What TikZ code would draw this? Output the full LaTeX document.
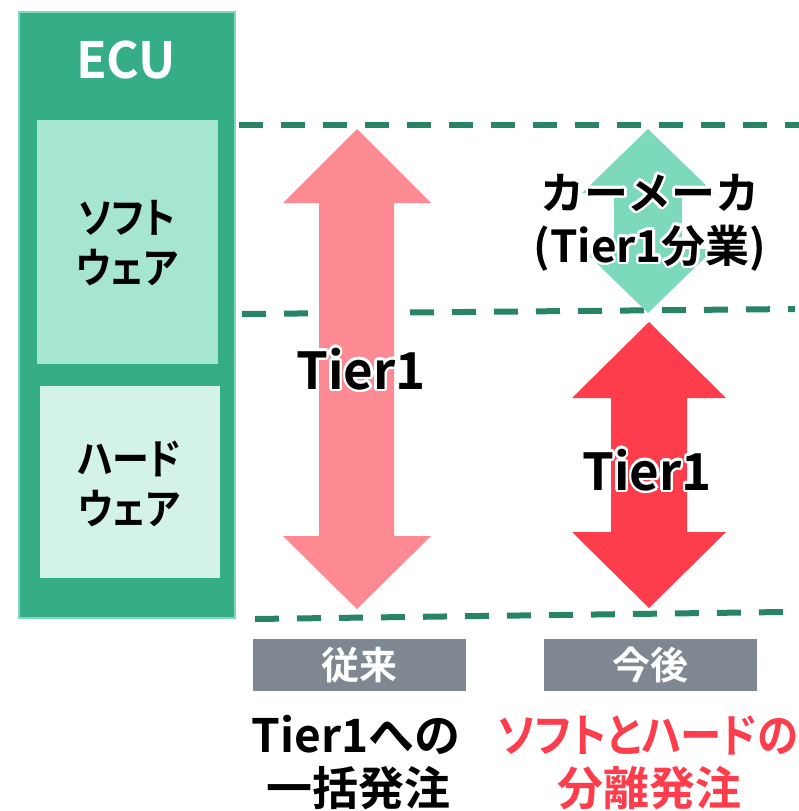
\documentclass[tikz,border=0pt]{standalone}
\usepackage{fontspec}
\usepackage{contour}
\setmainfont{Noto Sans CJK JP}[BoldFont={Noto Sans CJK JP Bold}]
\newfontfamily\jpp{Noto Sans CJK JP Bold}[RawFeature=+palt]
\contourlength{2.5pt}
\contournumber{20}
\definecolor{ecuG}{HTML}{35AE88}
\definecolor{ecuB}{HTML}{7FD9BB}
\definecolor{swG}{HTML}{A6E5D1}
\definecolor{hwG}{HTML}{D3F2E8}
\definecolor{dashG}{HTML}{288467}
\definecolor{pinkA}{HTML}{FD8A92}
\definecolor{redA}{HTML}{FE3D4C}
\definecolor{greenA}{HTML}{7CD9BC}
\definecolor{grayB}{HTML}{7F8791}
\tikzset{
  sep/.style={draw=dashG,line width=6pt,dash pattern=on 24pt off 18pt},
  lbl/.style={font=\fontsize{#1}{#1}\selectfont\bfseries,inner sep=0pt,align=center},
  side/.style={inner sep=0pt,align=center,font=\jpp\fontsize{42}{50}\selectfont},
  tag/.style={fill=grayB,minimum width=213pt,minimum height=52pt,inner sep=0pt,text=white,font=\fontsize{38}{38}\selectfont\bfseries},
}
\begin{document}
\begin{tikzpicture}[x=1pt,y=-1pt]
\useasboundingbox (0,0) rectangle (799,811);
% ECU
\path[fill=ecuG,draw=ecuB,line width=1.5pt] (19,12) rectangle (235,618);
\node[lbl=50,text=white] (ecu) at (126,60) {ECU};
\path[fill=swG] (37,120) rectangle (218,364);
\node[side] (sw) at (127,243) {\scalebox{0.88}[1]{ソフト}\\\scalebox{0.88}[1]{ウェア}};
\path[fill=hwG] (40,386) rectangle (220,578);
\node[side] (hw) at (129,484) {\scalebox{0.88}[1]{ハード}\\\scalebox{0.88}[1]{ウェア}};
% dashed separators
\coordinate (l1a) at (239,125); \coordinate (l1b) at (799,125);
\coordinate (l2a) at (242,314); \coordinate (l2b) at (795,309);
\coordinate (l3a) at (255,619); \coordinate (l3b) at (783,612);
\draw[sep] (l1a) -- (l1b);
\draw[sep] (l2a) -- (l2b);
\draw[sep] (l3a) -- (l3b);
% pink arrow
\fill[pinkA] (357,129) -- (431,203) -- (394,203) -- (394,536) -- (431,536) -- (357,609)
  -- (283,536) -- (319,536) -- (319,203) -- (283,203) -- cycle;
% green arrow
\fill[greenA] (648,129) -- (714,193) -- (682,193) -- (682,249) -- (714,249) -- (648,313)
  -- (582,249) -- (614,249) -- (614,193) -- (582,193) -- cycle;
% red arrow
\fill[redA] (649,322) -- (726,398) -- (687,398) -- (687,532) -- (726,532) -- (649,608)
  -- (572,532) -- (611,532) -- (611,398) -- (572,398) -- cycle;
% arrow labels with white halo
\node[lbl=51] (t1) at (361,370) {\contour{white}{Tier1}};
\node[lbl=51] (t2) at (647,471) {\contour{white}{Tier1}};
\node[lbl=44] (cm) at (650,194) {\contour{white}{カーメーカ}};
\node[lbl=44] (cm2) at (650,249) {\contour{white}{(Tier1分業)}};
% tags
\node[tag] (old) at (359.5,665) {従来};
\node[tag] (new) at (650.5,665) {今後};
% bottom texts
\node[lbl=46] (b1) at (356,735) {Tier1への};
\node[lbl=46] (b2) at (358,788) {一括発注};
\node[lbl=46,text=redA,font=\jpp\fontsize{46}{46}\selectfont] (b3) at (648,735) {\scalebox{0.9}[1]{ソフトとハードの}};
\node[lbl=46,text=redA] (b4) at (649,788) {分離発注};
\end{tikzpicture}
\end{document}
